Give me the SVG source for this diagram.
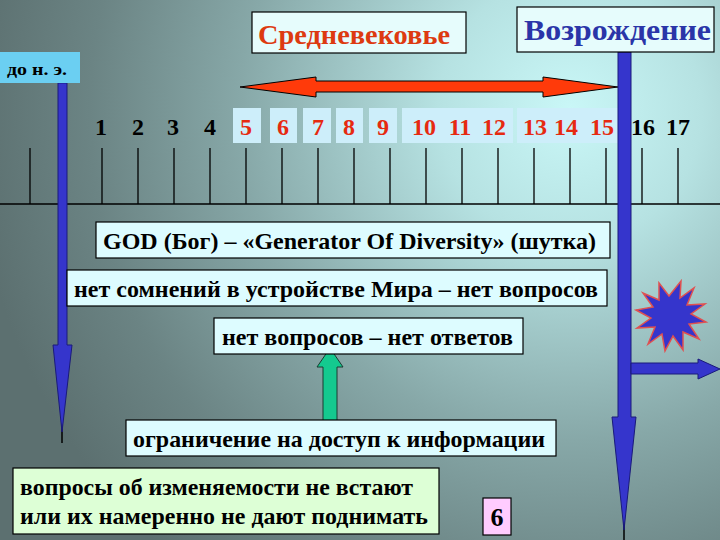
<svg xmlns="http://www.w3.org/2000/svg" width="720" height="540" viewBox="0 0 720 540" font-family="'Liberation Serif', 'DejaVu Serif', serif" font-weight="bold">
<defs>
<radialGradient id="bg" gradientUnits="userSpaceOnUse" cx="570" cy="110" r="600">
<stop offset="0" stop-color="#c9f7f7"/>
<stop offset="0.22" stop-color="#b6e2e2"/>
<stop offset="0.55" stop-color="#87a8a8"/>
<stop offset="0.8" stop-color="#6b8484"/>
<stop offset="1" stop-color="#5c7070"/>
</radialGradient>
<style>
.box{fill:#ddfcff;stroke:#000;stroke-width:1.2}
.nb{fill:#cdeefa}
.num{font-size:24px;text-anchor:middle}
.red{fill:#e62a10}
.blk{fill:#000}
.lbl{font-size:23px;fill:#000}
.tick{stroke:#000;stroke-width:1.3}
.blue{fill:#3535cc;stroke:#1a1a7a;stroke-width:1}
</style>
</defs>
<rect width="720" height="540" fill="url(#bg)"/>

<g id="timeline">
<line class="tick" x1="0" y1="204" x2="720" y2="204"/>
<g class="tick">
<line x1="30" y1="148" x2="30" y2="204"/><line x1="66" y1="148" x2="66" y2="204"/>
<line x1="102" y1="148" x2="102" y2="204"/><line x1="138" y1="148" x2="138" y2="204"/>
<line x1="174" y1="148" x2="174" y2="204"/><line x1="210" y1="148" x2="210" y2="204"/>
<line x1="246" y1="148" x2="246" y2="204"/><line x1="282" y1="148" x2="282" y2="204"/>
<line x1="318" y1="148" x2="318" y2="204"/><line x1="354" y1="148" x2="354" y2="204"/>
<line x1="390" y1="148" x2="390" y2="204"/><line x1="426" y1="148" x2="426" y2="204"/>
<line x1="462" y1="148" x2="462" y2="204"/><line x1="498" y1="148" x2="498" y2="204"/>
<line x1="534" y1="148" x2="534" y2="204"/><line x1="570" y1="148" x2="570" y2="204"/>
<line x1="606" y1="148" x2="606" y2="204"/><line x1="642" y1="148" x2="642" y2="204"/>
<line x1="678" y1="148" x2="678" y2="204"/>
</g>
<g class="nb">
<rect x="233" y="108" width="28" height="35"/>
<rect x="270" y="108" width="27" height="35"/>
<rect x="303" y="108" width="28" height="35"/>
<rect x="336" y="108" width="27" height="35"/>
<rect x="369" y="108" width="28" height="35"/>
<rect x="402" y="108" width="111" height="35"/>
<rect x="517" y="108" width="103" height="35"/>
</g>
<g class="num">
<text class="blk" x="101" y="135">1</text>
<text class="blk" x="138" y="135">2</text>
<text class="blk" x="173" y="135">3</text>
<text class="blk" x="210" y="135">4</text>
<text class="red" x="246" y="135">5</text>
<text class="red" x="283" y="135">6</text>
<text class="red" x="318" y="135">7</text>
<text class="red" x="349" y="135">8</text>
<text class="red" x="383" y="135">9</text>
<text class="red" x="424" y="135">10</text>
<text class="red" x="460" y="135">11</text>
<text class="red" x="494" y="135">12</text>
<text class="red" x="535" y="135">13</text>
<text class="red" x="566" y="135">14</text>
<text class="red" x="602" y="135">15</text>
<text class="blk" x="643" y="135">16</text>
<text class="blk" x="678" y="135">17</text>
</g>
</g>

<g id="connectors">
<polygon points="240,87 316,77 316,81 543,81 543,77 618,87 543,97 543,92 316,92 316,97" fill="#ff3a0a" stroke="#000" stroke-width="1"/>
<line x1="62" y1="420" x2="62" y2="443" stroke="#000" stroke-width="1.5"/>
<polygon class="blue" points="58,83 67,83 67,345 72,345 62,432 53,345 58,345"/>
<line x1="624" y1="500" x2="624" y2="540" stroke="#000" stroke-width="1.5"/>
<polygon class="blue" points="618,52 631,52 631,417 636,417 624,530 612,417 618,417"/>
<polygon class="blue" points="631,363 698,363 698,359 720,369 698,379 698,374 631,374"/>
<polygon points="330,348 343,367 337,367 337,423 323,423 323,367 317,367" fill="#14c98f" stroke="#1a3a30" stroke-width="1"/>
</g>

<g id="medieval">
<rect x="252" y="12" width="214" height="41" fill="#e6fcfc" stroke="#000" stroke-width="1.2"/>
<text x="258" y="44" font-size="28" fill="#dd3a10" textLength="192" lengthAdjust="spacingAndGlyphs">Средневековье</text>
</g>

<g id="renaissance">
<rect x="517" y="7" width="197" height="45" fill="#e6fcfc" stroke="#000" stroke-width="1.2"/>
<text x="524" y="40" font-size="30" fill="#2a35a8" textLength="187" lengthAdjust="spacingAndGlyphs">Возрождение</text>
</g>

<g id="bc">
<rect x="0" y="52" width="80" height="31" fill="#6bcff2"/>
<text x="7" y="75" font-size="17" fill="#000" textLength="60" lengthAdjust="spacingAndGlyphs">до н. э.</text>
</g>

<g id="god">
<rect class="box" x="96" y="222" width="514" height="36"/>
<text class="lbl" x="103" y="249" textLength="493" lengthAdjust="spacingAndGlyphs">GOD (Бог) – «Generator Of Diversity» (шутка)</text>
</g>

<g id="nodoubt">
<rect class="box" x="67" y="270" width="540" height="36"/>
<text class="lbl" x="74" y="297" textLength="524" lengthAdjust="spacingAndGlyphs">нет сомнений в устройстве Мира – нет вопросов</text>
</g>

<g id="noquestions">
<rect class="box" x="214" y="318" width="309" height="36"/>
<text class="lbl" x="222" y="345" textLength="291" lengthAdjust="spacingAndGlyphs">нет вопросов – нет ответов</text>
</g>

<g id="restriction">
<rect class="box" x="126" y="420" width="430" height="36"/>
<text class="lbl" x="133" y="447" textLength="412" lengthAdjust="spacingAndGlyphs">ограничение на доступ к информации</text>
</g>

<g id="changeability">
<rect x="13" y="468" width="426" height="66" fill="#ddffd6" stroke="#000" stroke-width="1.2"/>
<text class="lbl" x="20" y="495" textLength="393" lengthAdjust="spacingAndGlyphs">вопросы об изменяемости не встают</text>
<text class="lbl" x="20" y="524" textLength="408" lengthAdjust="spacingAndGlyphs">или их намеренно не дают поднимать</text>
</g>

<g id="six">
<rect x="483" y="498" width="28" height="37" fill="#ffccff" stroke="#000" stroke-width="1.2"/>
<text x="497" y="526" font-size="26" fill="#000" text-anchor="middle">6</text>
</g>

<g id="star">
<polygon points="681,281 680,298 694,288 687,305 705,304 691,314 706,322 689,324 699,339 683,332 683,350 673,336 665,351 662,334 648,344 655,327 637,328 651,318 636,310 653,307 643,293 659,300 659,283 669,296" fill="#3535cc" stroke="#e05050" stroke-width="1.5"/>
</g>
</svg>
